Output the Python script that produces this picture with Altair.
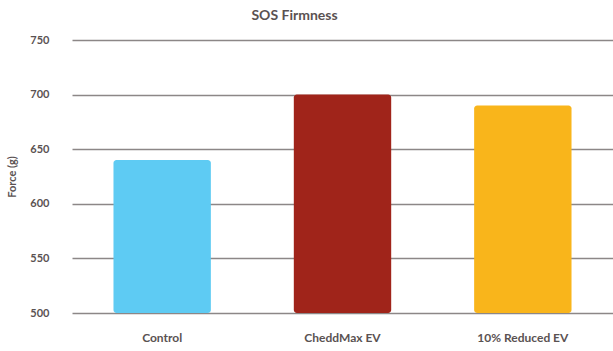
import altair as alt
import pandas as pd

categories = ["Control", "CheddMax EV", "10% Reduced EV"]
values = [640, 700, 690]
colors = ["#5ECBF3", "#A0241A", "#F9B51B"]
base_value = 500

df = pd.DataFrame({"cat": categories, "val": values})

text_color = "#5a5252"
font = "Lato"

chart = alt.Chart(df).mark_bar(cornerRadius=3).encode(
    x=alt.X("cat:N", sort=categories, title=None,
            scale=alt.Scale(paddingInner=0.46, paddingOuter=0.23),
            axis=alt.Axis(labelAngle=0, labelPadding=19, ticks=False, domain=False,
                          labelFont=font, labelFontSize=12, labelFontWeight="bold",
                          labelColor=text_color)),
    y=alt.Y("val:Q", title="Force (g)",
            scale=alt.Scale(domain=[500, 750], zero=False, nice=False),
            axis=alt.Axis(values=[500, 550, 600, 650, 700, 750], ticks=False, domain=False,
                          labelPadding=23, labelFont=font, labelFontSize=11,
                          labelFontWeight="bold", labelColor=text_color,
                          titleFont=font, titleFontSize=11, titleFontWeight="bold",
                          titleColor=text_color, titlePadding=12,
                          gridColor="#8c8787", gridWidth=1.5, gridOpacity=1)),
    y2=alt.datum(base_value),
    color=alt.Color("cat:N", sort=categories,
                    scale=alt.Scale(domain=categories, range=colors), legend=None),
).properties(
    width=541, height=273,
    title=alt.TitleParams("SOS Firmness", font=font, fontSize=14, fontWeight="bold",
                          color=text_color, offset=11, dx=-48),
    autosize=alt.AutoSizeParams(type="none"),
    padding={"left": 72, "top": 40, "right": 0, "bottom": 38},
).configure_view(stroke=None)

chart.save("out.html", embed_options={"renderer": "svg", "actions": False})
